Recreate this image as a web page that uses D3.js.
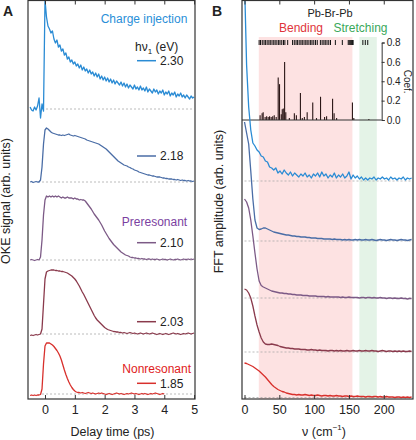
<!DOCTYPE html>
<html><head><meta charset="utf-8">
<script src="https://cdn.jsdelivr.net/npm/d3@7"></script>
<style>
body{margin:0;background:#fff}
svg{display:block}
text{font-family:'Liberation Sans',Arial,Helvetica,sans-serif;fill:#222}
</style>
</head><body>
<svg id="chart" width="416" height="440"></svg>
<script>
// ---------------- DATA ----------------
const photonEnergies = ["2.30", "2.18", "2.10", "2.03", "1.85"];
const regimeLabels = ["Charge injection", "Preresonant", "Nonresonant"];

// Panel A: OKE signal vs delay time (ps), sampled from -0.5 ps every 0.05 ps
const delayStart = -0.5, delayStep = 0.05;
const okeOffsets = [290, 217, 139, 65, 5];
const oke230 = [2,-1,-2,2,-1,3,11,-9,5,-2,109,92,83,80,76,78,70,66,69,62,64,58,60,54,56,50,52,47,49,45,47,43,45,41,44,39,42,38,40,36,39,35,37,33,36,32,35,30,33,29,32,28,31,27,30,26,29,25,28,26,24,27,23,26,22,25,21,24,22,20,24,20,22,19,23,19,21,18,22,17,20,18,16,20,17,19,15,18,16,19,14,17,15,18,13,16,14,17,12,15,13,16,12,14,11,14,12,10,13,11,12];
const oke218 = [0,0.5,-0.5,0,0.5,0,0,2,15,38,52,54,53,51.5,50,49,48.5,48,47.5,47,47,46.5,47,46.5,47,47.5,48,47,46.5,46,46.5,46,45.5,45,44.5,44,43.5,43,42,41.5,41,40.5,40,39.5,39,38.5,38,37,36,35,34,33,31.5,30,28.5,27,25.5,24,22.5,21,20,19,18,17,16.5,16,15,14.5,13.5,13,12,11.5,11,10,9.5,9,8.5,8,7.5,7,7,6.5,6,6,5.5,5,5,5,4.5,4,4,3.5,3.5,3,3,3,2.5,2.5,2,2.5,2,1.5,2,1.5,1.5,1,1.5,1,1,0.5,1];
const oke210 = [0,0.5,0,-0.5,0,0.5,0,3,20,45,60,64,63,64,63,64,63,64,63,64,63,62,63,62,62,63,62,62,62,61,62,61,61,60,60.5,60,60,59,57,55,53,51,48.5,46,44,42,40,37.5,35,32,29,26.5,24,21.5,19.5,17.5,15.5,14,12.5,11,9.5,8,7,6,5,4.5,4,3,2.5,2.5,2,2,1.5,1.5,1,1.5,1,1,0.5,1,1,0.5,1,0.5,0.5,1,0.5,0,0.5,1,0.5,0.5,0,0.5,1,0.5,0,0.5,0.5,1,0.5,0,0.5,1,0.5,0.5,1,0.5,1,0.5,1];
const oke203 = [-1.5,-1,-1.5,-1,-0.5,-1,-0.5,0,5,30,55,62,63,63.5,64,64,64,63.5,63.5,63,63,62.5,62.5,62,61.5,61,60,59,58,56.5,55,53,50.5,48,45,42,39.5,36.5,33.5,30.5,27.5,24.5,21.5,18.5,16,14,12.5,11,9.5,8,6.5,5.5,4.5,4,3.5,3,2.5,2.3,2,2,1.5,1.5,1,1.5,1,0.5,1,1.5,1,0.5,1,0.5,0,0.5,1,0.5,0,0.5,1,0.5,0,0.5,1,0.5,0,-0.5,0,0.5,0,-0.5,0,0.5,0,-0.5,0,0.5,1,0.5,0,0.5,0,-0.5,0,0.5,0,0.5,1,0.5,0,0.5,1];
const oke185 = [-1.5,-1,-1.5,-1,-1.5,-1,-1,-0.5,5,30,48,51,51,51,50,49,47.5,45.5,43.5,41,38,34,29,24,19.5,15.5,12,9,6.5,4.5,3,2,1.5,1.5,1,1.5,1,0.5,1,1.5,1,0.5,1,0.5,0,0.5,1,0.5,1,0.5,0,-0.5,0,0.5,0,-0.5,0,0.5,1,0.5,0,0.5,0,-0.5,0,0.5,0,0.5,1,0.5,0,0.5,0,-0.5,0,0.5,0,0.5,0,-0.5,0,0.5,0,0.5,1,0.5,0,-0.5,0,0.5,0];
const delayTicks = [0, 1, 2, 3, 4, 5];

// Panel B: FFT amplitude vs wavenumber (cm-1), sampled from 0 every 3 cm-1
const freqStart = 0, freqStep = 3;
const fftOffsets = [218, 158, 101, 47, 1.5];
const fft230 = [200,116,74,51,38,35,31,29,25,24,20,19,14,13,11,13,8,10,7,11,8,6,9,5,8,6,4,7,5,8,4,6,3,7,5,8,4,9,5,7,3,6,4,8,3,6,4,7,3,5,9,2,6,3,5,2,4,1,3,1,3,2,4,1,3,2,4,2,3,1,4,2,3,1,3,2,4,1,3,2,3];
const fft218 = [119,108,97,70,42,21,13,11.5,12,13,13,12,11,10,9,8.5,8,7.5,7,6.5,6,6,5.5,5,5,4.5,4.5,4,4,4,3.5,3.5,3,3,3,2.5,2.5,2.5,2,2,2,2,1.5,2,1.5,1.5,1.5,1,1.5,1,1.5,1,1,1.5,1,1.5,1,1,1.5,1,1,1.5,1,0.5,1,1.5,1,1,0.5,1,1.5,1,1,0.5,1,1.5,1,1,0.5,1,1.5];
const fft210 = [99,96,90,78,62,45,29,17,12.5,11,10,9,8,7,6.5,6,5.5,5,5,4.5,4.5,4,4,3.5,3.5,3,3,3,2.5,2.5,2.5,2,2,2,2,1.5,1.5,1.5,1.5,1,1.5,1,1,1,1,1,0.5,1,0.5,0.5,1,0.5,0.5,0.5,0.5,0,0.5,0.5,0,0.5,0.5,0,0.5,0,0,0.5,0,0,-0.5,0,0,-0.5,0,-0.5,-0.5,0,-0.5,-0.5,-1,-0.5,-0.5];
const fft203 = [63,62,59,54,46,36,27,20,14,10,8,7.5,7.5,8,7.5,7,6.5,5.5,5,4.5,4,4,3.5,3.5,3,3,3,2.5,2.5,2.5,2,2,2.5,2,2,1.5,2,1.5,1.5,1.5,1,1.5,1.5,1,1.5,1,1.5,1,1,1.5,1,1,1.5,1,1,1.5,1,1,1.5,1,1,1.5,1,1,0.5,1,1.5,1,0.5,1,1,0.5,1,0.5,1,0.5,1,0.5,0.5,1,0.5];
const fft185 = [34.5,34,33,32,31,29.5,28,26.5,24.5,22.5,20.5,18,15.5,13,11,9.5,8,7,6,5.5,4.5,4,3.5,3,3,2.5,3,2.5,2.5,3,2.5,2,2.5,2,2,2.5,2,1.5,2,2,1.5,2,1.5,1.5,2,1.5,1.5,1,1.5,1.5,1,1.5,1,1,1.5,1,1,1,0.5,1,1,0.5,1,1,0.5,1,0.5,0.5,1,0.5,0.5,0.5,0,0.5,0.5,0,0.5,0,0.5,0,0.5];
const freqTicks = [0, 50, 100, 150, 200];

// Inset: Pb-Br-Pb mode coefficients
const modeFreqs = [21,23,25.5,28,30,32.5,35,37,39.5,42,44,46.5,49,51,53.5,56,58,62,69,71.5,74,76,78.5,81,83,85.5,88,90,92.5,95,97,99.5,102,104.5,109,111.5,114,116,118.5,121,123.5,130.5,140.5,149,150.5,152,153.5,155,156,170,173.5,177];
const coefFreqs  = [22.4,25.3,26.8,29.6,31.8,34,36,38.3,40.5,42.7,45.5,48.4,50.3,52.8,54.2,55.7,57.6,59.3,64.4,71.6,74.5,80.3,83,86,90,98,103.4,109.2,115,117.9,126.5,128.7,132.3,155,157,178.6];
const coefValues = [0.05,0.07,0.08,0.03,0.04,0.03,0.04,0.03,0.04,0.05,0.03,0.44,0.37,0.06,0.11,0.12,0.6,0.08,0.02,0.07,0.05,0.28,0.02,0.03,0.08,0.18,0.02,0.24,0.03,0.04,0.22,0.07,0.02,0.18,0.02,0.01];
const coefTicks = [0, 0.2, 0.4, 0.6, 0.8];
const bendingRange = [20.5, 155];
const stretchingRange = [165, 190];

// ---------------- STYLE ----------------
const traceColors = ["#2a8bd4", "#4a6da6", "#7c5a86", "#8a3a4c", "#d8302c"];
const regimeColors = ["#2a8fd8", "#7b3fa1", "#e0201c"];
const frameColor = "#333";

// ---------------- DRAW ----------------
const svg = d3.select("#chart");
const yS = d3.scaleLinear().domain([0, 399]).range([399, 0]);
const xA = d3.scaleLinear().domain([-0.57, 5.03]).range([28, 195]);
const xB = d3.scaleLinear().domain([-3.6, 242]).range([242, 413]);
const yInset = d3.scaleLinear().domain([0, 0.8]).range([120, 42.5]);

const defs = svg.append("defs");
defs.append("clipPath").attr("id", "clipA").append("rect").attr("x", 28).attr("y", 0).attr("width", 167).attr("height", 399);
defs.append("clipPath").attr("id", "clipB").append("rect").attr("x", 242).attr("y", 0).attr("width", 171).attr("height", 399);

// ---- Panel A ----
const okeSeries = [oke230, oke218, oke210, oke203, oke185];
const gA = svg.append("g").attr("clip-path", "url(#clipA)");
okeSeries.forEach((s, k) => {
  gA.append("line").attr("x1", xA(-0.1)).attr("x2", xA(5)).attr("y1", yS(okeOffsets[k])).attr("y2", yS(okeOffsets[k]))
    .attr("stroke", "#aaa").attr("stroke-width", 0.8).attr("stroke-dasharray", "2,2");
});
okeSeries.forEach((s, k) => {
  const line = d3.line().x((d, i) => xA(delayStart + i * delayStep)).y(d => yS(okeOffsets[k] + d));
  gA.append("path").attr("d", line(s)).attr("fill", "none").attr("stroke", traceColors[k]).attr("stroke-width", 1.3).attr("stroke-linejoin", "round");
});

// axes A
const axA = svg.append("g").attr("transform", "translate(0,399)")
  .call(d3.axisBottom(xA).tickValues(delayTicks).tickSize(-4).tickPadding(6).tickFormat(d3.format("d")));
axA.select(".domain").remove();
axA.selectAll("text").attr("font-size", 12.5).style("font-family", "'Liberation Sans',Arial,sans-serif").attr("fill", "#222");
axA.selectAll("line").attr("stroke", frameColor);
const axAt = svg.append("g").attr("transform", "translate(0,0.5)")
  .call(d3.axisTop(xA).tickValues(delayTicks).tickSize(-4).tickFormat(""));
axAt.select(".domain").remove();
axAt.selectAll("line").attr("stroke", frameColor);
svg.append("rect").attr("x", 28).attr("y", 0.5).attr("width", 167).attr("height", 398.5)
  .attr("fill", "none").attr("stroke", frameColor).attr("stroke-width", 1.2);

// legend A
const legY = [60.7, 156, 242.7, 321.7, 383.3];
photonEnergies.forEach((e, k) => {
  svg.append("line").attr("x1", 137).attr("x2", 156).attr("y1", legY[k]).attr("y2", legY[k])
    .attr("stroke", traceColors[k]).attr("stroke-width", 1.5);
  svg.append("text").attr("x", 160).attr("y", legY[k] + 4.3).attr("font-size", 12).text(e);
});
const hv = svg.append("text").attr("x", 135).attr("y", 51).attr("font-size", 12);
hv.append("tspan").text("hν");
hv.append("tspan").attr("font-size", 8).attr("dy", 2.5).text("1");
hv.append("tspan").attr("dy", -2.5).text(" (eV)");
svg.append("text").attr("x", 144).attr("y", 23).attr("text-anchor", "middle").attr("font-size", 12).style("fill", regimeColors[0]).text(regimeLabels[0]);
svg.append("text").attr("x", 154.5).attr("y", 226).attr("text-anchor", "middle").attr("font-size", 12).style("fill", regimeColors[1]).text(regimeLabels[1]);
svg.append("text").attr("x", 156.7).attr("y", 373.3).attr("text-anchor", "middle").attr("font-size", 12).style("fill", regimeColors[2]).text(regimeLabels[2]);

svg.append("text").attr("x", 112.5).attr("y", 435.5).attr("text-anchor", "middle").attr("font-size", 12.5).text("Delay time (ps)");
svg.append("text").attr("transform", "translate(10,201) rotate(-90)").attr("text-anchor", "middle").attr("font-size", 12.5).text("OKE signal (arb. units)");
svg.append("text").attr("x", 3).attr("y", 15.5).attr("font-size", 14).attr("font-weight", "bold").text("A");

// ---- Panel B ----
const gB = svg.append("g").attr("clip-path", "url(#clipB)");
gB.append("rect").attr("x", xB(bendingRange[0])).attr("y", 37).attr("width", xB(bendingRange[1]) - xB(bendingRange[0])).attr("height", 362).attr("fill", "#fde2e2");
gB.append("rect").attr("x", xB(stretchingRange[0])).attr("y", 37).attr("width", xB(stretchingRange[1]) - xB(stretchingRange[0])).attr("height", 362).attr("fill", "#e4f3e7");

const fftSeries = [fft230, fft218, fft210, fft203, fft185];
fftSeries.forEach((s, k) => {
  gB.append("line").attr("x1", xB(0)).attr("x2", xB(240)).attr("y1", yS(fftOffsets[k])).attr("y2", yS(fftOffsets[k]))
    .attr("stroke", "#aaa").attr("stroke-width", 0.8).attr("stroke-dasharray", "2,2");
});

// inset
gB.selectAll(".bar").data(coefFreqs).enter().append("line")
  .attr("x1", d => xB(d)).attr("x2", d => xB(d))
  .attr("y1", yInset(0)).attr("y2", (d, i) => yInset(coefValues[i]))
  .attr("stroke", "#2a1616").attr("stroke-width", 1.1);
gB.selectAll(".rug").data(modeFreqs).enter().append("line")
  .attr("x1", d => xB(d)).attr("x2", d => xB(d)).attr("y1", 40).attr("y2", 45)
  .attr("stroke", "#111").attr("stroke-width", 1);
gB.append("line").attr("x1", xB(-3.6)).attr("x2", xB(197)).attr("y1", yInset(0)).attr("y2", yInset(0)).attr("stroke", "#333").attr("stroke-width", 1);
const axIn = svg.append("g").attr("transform", `translate(${xB(197)},0)`)
  .call(d3.axisRight(yInset).tickValues(coefTicks).tickSize(3).tickPadding(2).tickFormat(d3.format(".1f")));
axIn.select(".domain").attr("stroke", "#333");
axIn.selectAll("line").attr("stroke", "#333");
axIn.selectAll("text").attr("font-size", 10).style("font-family", "'Liberation Sans',Arial,sans-serif").attr("fill", "#222");
svg.append("text").attr("transform", "translate(403.5,81.7) rotate(90)").attr("text-anchor", "middle").attr("font-size", 10).text("Coef.");

fftSeries.forEach((s, k) => {
  const line = d3.line().x((d, i) => xB(freqStart + i * freqStep)).y(d => yS(fftOffsets[k] + d));
  gB.append("path").attr("d", line(s)).attr("fill", "none").attr("stroke", traceColors[k]).attr("stroke-width", 1.3).attr("stroke-linejoin", "round");
});

// axes B
const axB = svg.append("g").attr("transform", "translate(0,399)")
  .call(d3.axisBottom(xB).tickValues(freqTicks).tickSize(-4).tickPadding(6).tickFormat(d3.format("d")));
axB.select(".domain").remove();
axB.selectAll("text").attr("font-size", 12.5).style("font-family", "'Liberation Sans',Arial,sans-serif").attr("fill", "#222");
axB.selectAll("line").attr("stroke", frameColor);
const axBt = svg.append("g").attr("transform", "translate(0,0.5)")
  .call(d3.axisTop(xB).tickValues(freqTicks).tickSize(-4).tickFormat(""));
axBt.select(".domain").remove();
axBt.selectAll("line").attr("stroke", frameColor);
svg.append("rect").attr("x", 242).attr("y", 0.5).attr("width", 171).attr("height", 398.5)
  .attr("fill", "none").attr("stroke", frameColor).attr("stroke-width", 1.2);

svg.append("text").attr("x", 330).attr("y", 16.5).attr("text-anchor", "middle").attr("font-size", 11).text("Pb-Br-Pb");
svg.append("text").attr("x", 301).attr("y", 31.5).attr("text-anchor", "middle").attr("font-size", 12).style("fill", "#e0343a").text("Bending");
svg.append("text").attr("x", 360.5).attr("y", 31.5).attr("text-anchor", "middle").attr("font-size", 12).style("fill", "#3aa85a").text("Stretching");

const xl = svg.append("text").attr("x", 324).attr("y", 436).attr("text-anchor", "middle").attr("font-size", 12.5);
xl.append("tspan").text("ν (cm");
xl.append("tspan").attr("font-size", 8).attr("dy", -6).text("−1");
xl.append("tspan").attr("dy", 6).text(")");
svg.append("text").attr("transform", "translate(223,201.5) rotate(-90)").attr("text-anchor", "middle").attr("font-size", 12.5).text("FFT amplitude (arb. units)");
svg.append("text").attr("x", 212).attr("y", 15.5).attr("font-size", 14).attr("font-weight", "bold").text("B");
</script>
</body></html>
